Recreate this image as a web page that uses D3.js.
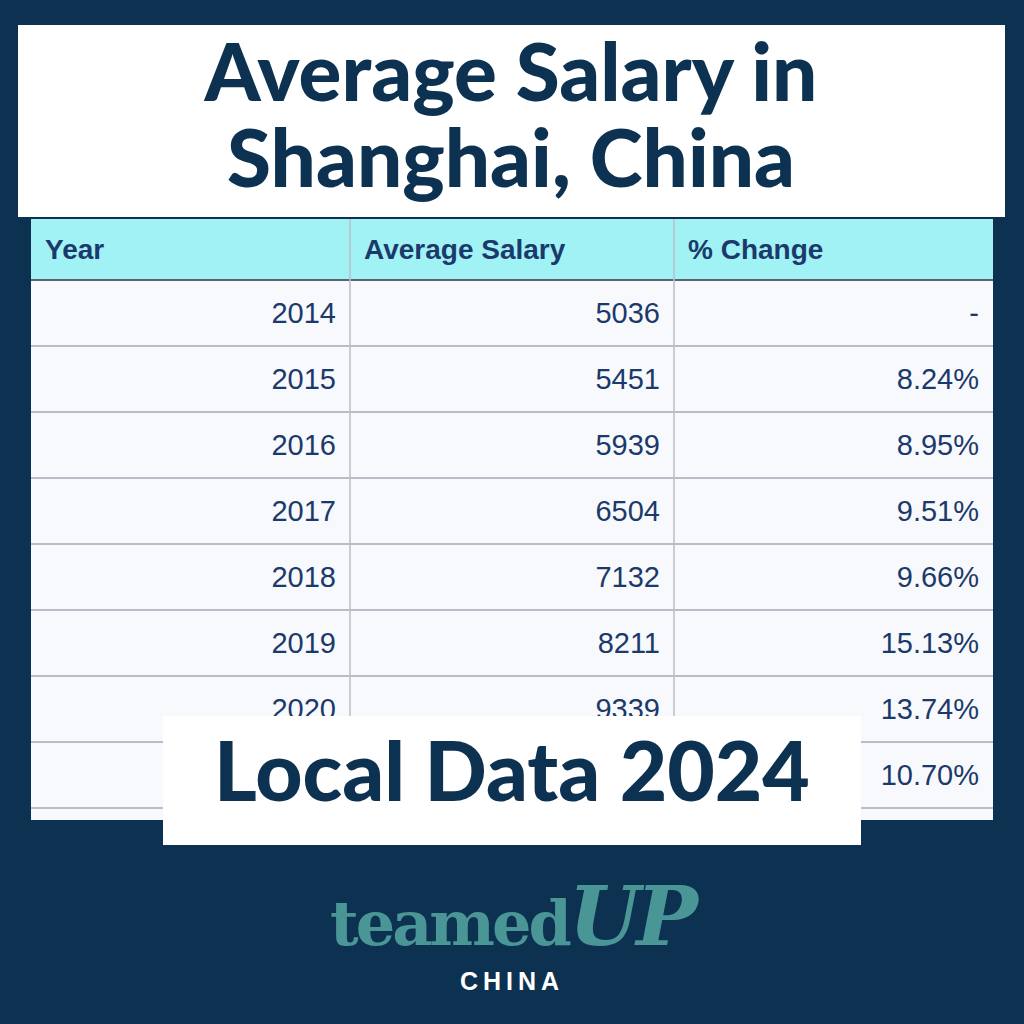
<!DOCTYPE html>
<html><head><meta charset="utf-8">
<script src="https://cdn.jsdelivr.net/npm/d3@7"></script>
<style>body{margin:0;background:#0d3150;}</style>
</head><body>
<svg id="chart" width="1024" height="1024"></svg>
<script>
// table data
const headers = ["Year", "Average Salary", "% Change"];
const years = [2014, 2015, 2016, 2017, 2018, 2019, 2020, 2021];
const salaries = [5036, 5451, 5939, 6504, 7132, 8211, 9339, 10338];
const changes = ["-", "8.24%", "8.95%", "9.51%", "9.66%", "15.13%", "13.74%", "10.70%"];

const navy = "#0d3150", ink = "#1b3a6b";
const svg = d3.select("#chart");
svg.append("rect").attr("width", 1024).attr("height", 1024).attr("fill", navy);

// columns and rows
const x = d3.scaleOrdinal().domain(headers).range([31, 350, 674]);
const colW = [319, 324, 319];
const y = d3.scaleBand().domain(years).range([280, 808]);

// the "Local Data" box covers part of the last row
const box = {x: 163, y: 716, w: 698, h: 129};

const table = svg.append("g");
table.append("rect").attr("x", 31).attr("y", 219).attr("width", 962).attr("height", 601).attr("fill", "#f8f9fc");
table.append("rect").attr("x", 31).attr("y", 219).attr("width", 962).attr("height", 61).attr("fill", "#a0f2f5");
table.append("line").attr("x1", 31).attr("x2", 993).attr("y1", 280).attr("y2", 280).attr("stroke", "#5a6470").attr("stroke-width", 2);

table.selectAll(".hdr").data(headers).enter().append("text")
  .attr("x", d => x(d) + 14).attr("y", 259)
  .attr("font-family", "Liberation Sans, Arial").attr("font-weight", "bold")
  .attr("font-size", 28).attr("fill", ink).text(d => d);

table.selectAll(".rowline").data(years).enter().append("line")
  .attr("x1", 31).attr("x2", 993)
  .attr("y1", d => y(d) + y.bandwidth()).attr("y2", d => y(d) + y.bandwidth())
  .attr("stroke", "#b8bec8").attr("stroke-width", 2);

[350, 674].forEach(cx => table.append("line").attr("x1", cx).attr("x2", cx)
  .attr("y1", 219).attr("y2", 820).attr("stroke", "#b8bec8").attr("stroke-width", 1.5));

const rows = years.map((yr, i) => [yr, salaries[i], changes[i]]);
rows.forEach((r, i) => {
  r.forEach((v, j) => {
    const tx = x(headers[j]) + colW[j] - 14;
    const ty = y(years[i]) + y.bandwidth() / 2 + 10;
    // skip cells hidden under the box
    if (tx > box.x && tx < box.x + box.w && ty - 20 > box.y) return;
    table.append("text")
      .attr("x", tx).attr("y", ty)
      .attr("text-anchor", "end")
      .attr("font-family", "Liberation Sans, Arial")
      .attr("font-size", 29).attr("fill", ink).text(v);
  });
});

// title box
svg.append("rect").attr("x", 18).attr("y", 25).attr("width", 987).attr("height", 192).attr("fill", "#fff");
svg.append("text").attr("x", 511).attr("y", 101).attr("text-anchor", "middle")
  .attr("font-family", "Lato").attr("font-weight", 900).attr("font-size", 80).attr("fill", navy)
  .text("Average Salary in");
svg.append("text").attr("x", 511).attr("y", 187).attr("text-anchor", "middle")
  .attr("font-family", "Lato").attr("font-weight", 900).attr("font-size", 80).attr("fill", navy)
  .text("Shanghai, China");

// subtitle box
svg.append("rect").attr("x", box.x).attr("y", box.y).attr("width", box.w).attr("height", box.h).attr("fill", "#fff");
svg.append("text").attr("x", 512).attr("y", 801).attr("text-anchor", "middle")
  .attr("font-family", "Lato").attr("font-weight", 900).attr("font-size", 82).attr("fill", navy)
  .text("Local Data 2024");

// logo
const logo = svg.append("text").attr("x", 512).attr("y", 945).attr("text-anchor", "middle")
  .attr("fill", "#4a9696");
logo.append("tspan").attr("font-family", "DejaVu Serif").attr("font-weight", "bold")
  .attr("font-size", 62).attr("letter-spacing", -3).text("teamed");
logo.append("tspan").attr("font-family", "DejaVu Serif").attr("font-weight", "bold")
  .attr("font-style", "italic").attr("font-size", 82).attr("letter-spacing", -4).text("UP");
svg.append("text").attr("x", 512).attr("y", 990).attr("text-anchor", "middle")
  .attr("font-family", "Liberation Sans").attr("font-weight", "bold").attr("font-size", 25)
  .attr("letter-spacing", 5).attr("fill", "#fff").text("CHINA");
</script>
</body></html>
